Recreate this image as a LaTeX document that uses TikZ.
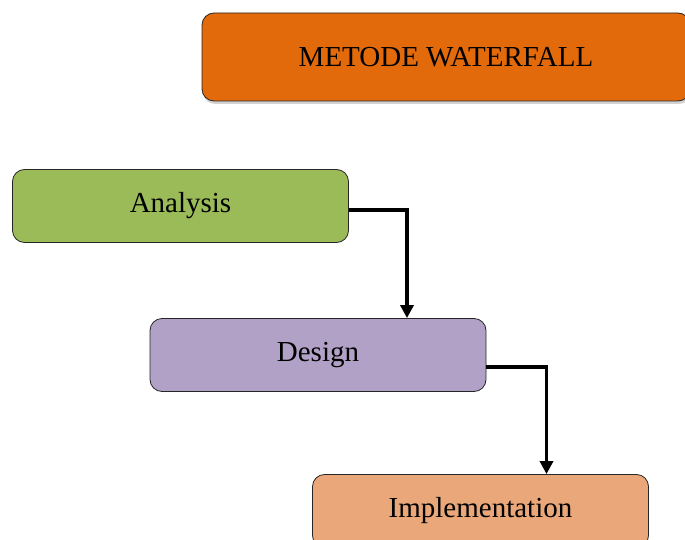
\documentclass[tikz,border=0pt]{standalone}
\usepackage{fontspec}
\setmainfont{Liberation Serif}
\usepackage{xcolor}
\usetikzlibrary{arrows.meta,positioning,shadows}
\definecolor{titleorange}{RGB}{226,106,10}
\definecolor{anagreen}{RGB}{155,187,89}
\definecolor{despurple}{RGB}{178,161,199}
\definecolor{implpeach}{RGB}{234,167,122}
\tikzset{
  phase/.style={draw=black!85, thick, rounded corners=12pt, align=center,
    minimum width=336pt, minimum height=73pt, font=\fontsize{29}{34}\selectfont},
  flow/.style={draw=black, line width=3.6pt, -{Triangle[length=13pt,width=13pt]}}
}
\begin{document}
\begin{tikzpicture}[x=1pt,y=-1pt]
  \useasboundingbox (0,0) rectangle (685,540);
  \clip (0,0) rectangle (685,540);
  % judul
  \node[phase, fill=titleorange, minimum width=488pt, minimum height=88pt,
    drop shadow={shadow xshift=1pt, shadow yshift=-3pt, opacity=0.35}] (judul) at (446,57) {METODE WATERFALL};
  % tahapan
  \node[phase, fill=anagreen] (analysis) at (180.5,206) {Analysis};
  \node[phase, fill=despurple] (design) at (318,355) {Design};
  \node[phase, fill=implpeach] (implementation) at (480.5,511) {Implementation};
  \draw[flow] ([yshift=-4pt]analysis.east) -| ([xshift=89pt]design.north);
  \draw[flow] ([yshift=-12pt]design.east) -| ([xshift=66pt]implementation.north);
\end{tikzpicture}
\end{document}
